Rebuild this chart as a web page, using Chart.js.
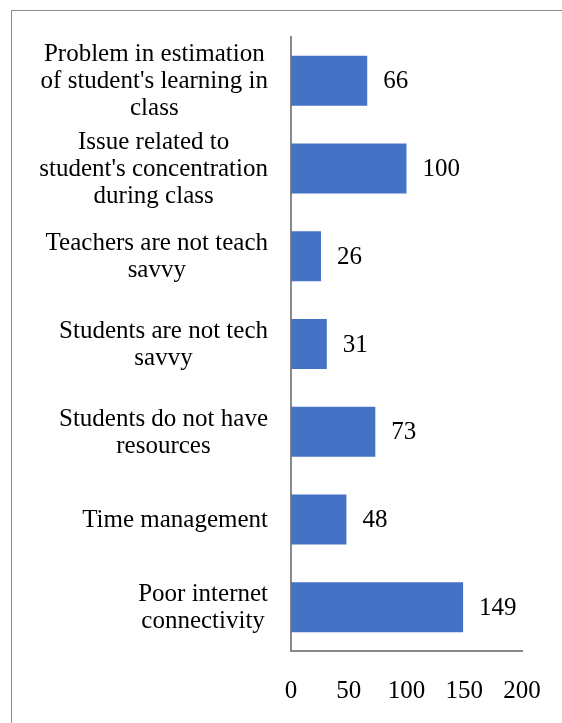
<!DOCTYPE html>
<html>
<head>
<meta charset="utf-8">
<script src="https://cdn.jsdelivr.net/npm/chart.js@4/dist/chart.umd.min.js"></script>
<style>
  html, body { margin: 0; padding: 0; background: #fff; }
  body { width: 562px; height: 723px; position: relative; overflow: hidden;
         font-family: 'Liberation Serif', serif; }
  .frame { position: absolute; left: 11px; top: 10px; width: 600px; height: 800px;
           border: 1.5px solid #8c8c8c; box-sizing: border-box; }
  #wrap { position: absolute; left: 0; top: 0; width: 562px; height: 723px; }
  .warm { position: absolute; left: -999px; font-family: 'Liberation Serif'; }
</style>
</head>
<body>
<div class="frame"></div>
<span class="warm">0123 abc</span>
<div id="wrap"><canvas id="chart"></canvas></div>
<script>
// Challenges reported, listed top to bottom
const categories = [
  ["Problem in estimation", "of student's learning in", "class"],
  ["Issue related to", "student's concentration", "during class"],
  ["Teachers are not teach", "savvy"],
  ["Students are not tech", "savvy"],
  ["Students do not have", "resources"],
  ["Time management"],
  ["Poor internet", "connectivity"]
];
const counts = [66, 100, 26, 31, 73, 48, 149];
const xTicks = [0, 50, 100, 150, 200];

const FONT = "'Liberation Serif', serif";
const FONT_SIZE = 25;
const LINE_GAP = 27;

// Category labels: each block sits flush right against the axis,
// with its lines centred within the block
const categoryLabels = {
  id: 'categoryLabels',
  afterDraw(chart) {
    const ctx = chart.ctx;
    const yScale = chart.scales.y;
    const rightEdge = yScale.right - 23;
    ctx.save();
    ctx.font = FONT_SIZE + 'px ' + FONT;
    ctx.fillStyle = '#000';
    ctx.textAlign = 'center';
    ctx.textBaseline = 'middle';
    categories.forEach((lines, i) => {
      const blockW = Math.max(...lines.map(l => ctx.measureText(l).width));
      const cx = rightEdge - blockW / 2;
      const cy = yScale.getPixelForValue(i);
      const y0 = cy - (lines.length - 1) * LINE_GAP / 2;
      lines.forEach((line, k) => ctx.fillText(line, cx, y0 + k * LINE_GAP + 1));
    });
    ctx.restore();
  }
};

// Writes each bar's count just past its end
const valueLabels = {
  id: 'valueLabels',
  afterDatasetsDraw(chart) {
    const ctx = chart.ctx;
    const meta = chart.getDatasetMeta(0);
    ctx.save();
    ctx.font = FONT_SIZE + 'px ' + FONT;
    ctx.fillStyle = '#000';
    ctx.textAlign = 'left';
    ctx.textBaseline = 'middle';
    meta.data.forEach((bar, i) => {
      ctx.fillText(String(counts[i]), bar.x + 16, bar.y + 1);
    });
    ctx.restore();
  }
};

function draw() {
  new Chart(document.getElementById('chart'), {
    type: 'bar',
    data: {
      labels: categories,
      datasets: [{
        data: counts,
        backgroundColor: '#4472C4',
        borderWidth: 0,
        categoryPercentage: 1,
        barPercentage: 0.57
      }]
    },
    options: {
      indexAxis: 'y',
      responsive: true,
      maintainAspectRatio: false,
      animation: false,
      layout: { padding: { top: 37, right: 40, left: 0, bottom: 0 } },
      plugins: { legend: { display: false }, tooltip: { enabled: false } },
      scales: {
        x: {
          min: 0,
          max: 200,
          afterBuildTicks(axis) { axis.ticks = xTicks.map(v => ({ value: v })); },
          afterFit(axis) {
            axis.height = 72;
            axis.paddingLeft = 0;
            axis.paddingRight = 0;
          },
          grid: { display: false, drawTicks: false },
          border: { display: true, color: '#898989', width: 2 },
          ticks: {
            color: '#000',
            padding: 27,
            maxRotation: 0,
            font: { family: FONT, size: FONT_SIZE, lineHeight: 1.08 }
          }
        },
        y: {
          afterFit(axis) {
            axis.width = 291;
            axis.paddingTop = 0;
            axis.paddingBottom = 0;
          },
          grid: { display: false, drawTicks: false },
          border: { display: true, color: '#898989', width: 2 },
          ticks: { display: false, autoSkip: false }
        }
      }
    },
    plugins: [valueLabels, categoryLabels]
  });
}

if (document.fonts && document.fonts.load) {
  document.fonts.load(FONT_SIZE + "px 'Liberation Serif'").then(draw, draw);
} else {
  draw();
}
</script>
</body>
</html>
